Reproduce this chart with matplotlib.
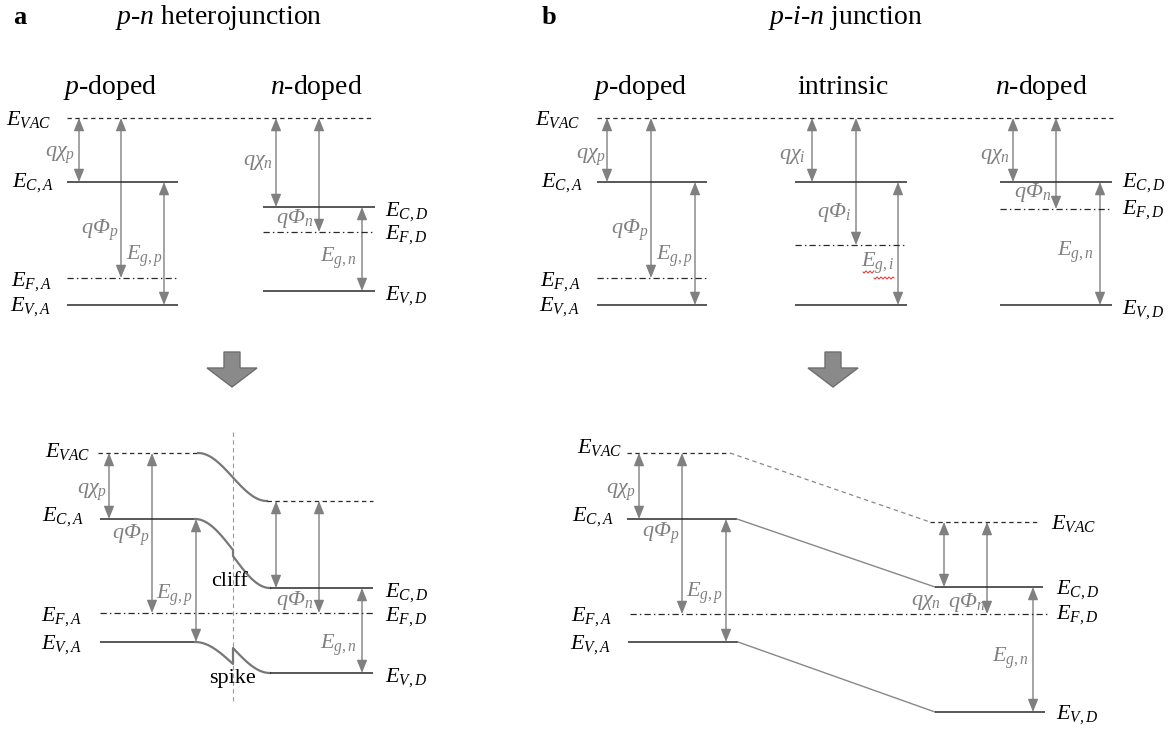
import numpy as np
import matplotlib.pyplot as plt
from matplotlib.patches import FancyArrowPatch, Polygon

plt.rcParams['font.family'] = ['Liberation Serif', 'DejaVu Serif']
# all math symbols (including capital Greek) are set in italic
plt.rcParams['mathtext.fontset'] = 'custom'
plt.rcParams['mathtext.rm'] = 'Liberation Serif:italic'
plt.rcParams['mathtext.it'] = 'Liberation Serif:italic'
plt.rcParams['mathtext.bf'] = 'Liberation Serif:bold'

GRAY = '#808080'
DARK = '#2a2a2a'
DASH = (0, (3.5, 2.8))
DASHDOT = (0, (5, 2.5, 1.2, 2.5))

# energy levels in pixel rows (0 = top of the figure, larger = lower energy)
evac_top = 118

# a: isolated p and n layers
pn_ec = [182, 207]
pn_ef = [278, 232]
pn_ev = [305, 291]

# b: isolated p, intrinsic and n layers
pin_ec = [182, 182, 182]
pin_ef = [278, 245, 209]
pin_ev = [305, 305, 305]

# a: heterojunction in contact (left side, right side)
het_evac = [453, 501]
het_ec = [519, 588]
het_ef = 613
het_ev = [642, 673]
het_cliff = [550, 556]   # conduction band step at the interface
het_spike = [664, 648]   # valence band step at the interface

# b: p-i-n junction in contact
junc_evac = [453, 522]
junc_ec = [519, 587]
junc_ef = 614
junc_ev = [642, 712]

fig = plt.figure(figsize=(11.72, 7.31), dpi=100)
ax = fig.add_axes([0, 0, 1, 1])
ax.set_xlim(0, 1172)
ax.set_ylim(731, 0)
ax.axis('off')


def hline(x0, x1, y, ls='-', color=DARK, lw=1.1):
    ax.plot([x0, x1], [y, y], ls=ls, color=color, lw=lw, solid_capstyle='butt')


def arrow(x, y0, y1):
    ax.add_patch(FancyArrowPatch((x, y0), (x, y1),
                                 arrowstyle='<|-|>,head_length=0.55,head_width=0.22',
                                 mutation_scale=14, color=GRAY, lw=1.0,
                                 shrinkA=0, shrinkB=0))


def ease(x0, x1, y0, y1, kind='both'):
    t = np.linspace(0, 1, 50)
    if kind == 'in':
        s = 1 - np.cos(t * np.pi / 2)
    elif kind == 'out':
        s = np.sin(t * np.pi / 2)
    else:
        s = (1 - np.cos(t * np.pi)) / 2
    return x0 + (x1 - x0) * t, y0 + (y1 - y0) * s


def lbl(x, y, s, color='black', size=16, **kw):
    ax.text(x, y, s, color=color, fontsize=size, ha='center', va='center', **kw)


def layer(x0, x1, ec, ef, ev, arrows_x, evac=evac_top):
    hline(x0, x1, ec)
    hline(x0, x1, ef, ls=DASHDOT, lw=0.9)
    hline(x0, x1, ev)
    arrow(arrows_x[0], evac, ec)
    arrow(arrows_x[1], evac, ef)
    arrow(arrows_x[2], ec, ev)


def block_arrow(cx):
    pts = [(cx - 8, 352), (cx + 8, 352), (cx + 8, 368), (cx + 25, 368),
           (cx, 387), (cx - 25, 368), (cx - 8, 368)]
    ax.add_patch(Polygon(pts, closed=True, facecolor='#8a8a8a', edgecolor='#6f6f6f', lw=1))


# ---------------- panel a ----------------
ax.text(20, 18, 'a', fontsize=19, fontweight='bold', ha='center', va='center')
lbl(219, 18, r'$p$-$n$ heterojunction', size=20)
lbl(110, 87, r'$p$-doped', size=20)
lbl(316, 87, r'$n$-doped', size=20)

hline(67, 373, evac_top, ls=DASH, lw=0.9)
layer(67, 178, pn_ec[0], pn_ef[0], pn_ev[0], [79, 121, 164])
layer(263, 375, pn_ec[1], pn_ef[1], pn_ev[1], [276, 319, 362])

for x, y, s in [(29, 120, r'$E_{VAC}$'), (33, 183, r'$E_{C,A}$'),
                (32, 282, r'$E_{F,A}$'), (31, 307, r'$E_{V,A}$'),
                (407, 212, r'$E_{C,D}$'), (406, 235, r'$E_{F,D}$'),
                (406, 296, r'$E_{V,D}$')]:
    lbl(x, y, s)
for x, y, s in [(60, 155, r'$q\chi_p$'), (100, 230, r'$q\Phi_p$'),
                (145, 256, r'$E_{g,p}$'), (258, 163, r'$q\chi_n$'),
                (295, 218, r'$q\Phi_n$'), (338, 258, r'$E_{g,n}$')]:
    lbl(x, y, s, color=GRAY)

block_arrow(232)

# contact: band bending around the interface at x = 233
xi = 233
ax.plot([xi, xi], [432, 703], ls=(0, (4, 3)), color='#999999', lw=0.8)

hline(98, 198, het_evac[0], ls=DASH, lw=0.9)
x, y = ease(198, 267, het_evac[0], het_evac[1])
ax.plot(x, y, color='#777777', lw=1.6)
hline(267, 373, het_evac[1], ls=DASH, lw=0.9)

hline(100, 195, het_ec[0])
x1, y1 = ease(195, xi, het_ec[0], het_cliff[0], 'in')
x2, y2 = ease(xi, 270, het_cliff[1], het_ec[1], 'out')
ax.plot(np.r_[x1, x2], np.r_[y1, y2], color='#777777', lw=1.6)
hline(270, 373, het_ec[1])

hline(100, 373, het_ef, ls=DASHDOT, lw=0.9)

hline(100, 195, het_ev[0])
x1, y1 = ease(195, xi, het_ev[0], het_spike[0], 'in')
x2, y2 = ease(xi, 270, het_spike[1], het_ev[1], 'out')
ax.plot(np.r_[x1, x2], np.r_[y1, y2], color='#777777', lw=1.6)
hline(270, 373, het_ev[1])

arrow(109, het_evac[0], het_ec[0])
arrow(152, het_evac[0], het_ef)
arrow(196, het_ec[0], het_ev[0])
arrow(276, het_evac[1], het_ec[1])
arrow(319, het_evac[1], het_ef)
arrow(362, het_ec[1], het_ev[1])

for x, y, s in [(68, 451, r'$E_{VAC}$'), (63, 517, r'$E_{C,A}$'),
                (62, 617, r'$E_{F,A}$'), (62, 645, r'$E_{V,A}$'),
                (407, 593, r'$E_{C,D}$'), (406, 617, r'$E_{F,D}$'),
                (406, 678, r'$E_{V,D}$')]:
    lbl(x, y, s)
for x, y, s in [(92, 492, r'$q\chi_p$'), (131, 535, r'$q\Phi_p$'),
                (175, 595, r'$E_{g,p}$'), (295, 600, r'$q\Phi_n$'),
                (338, 645, r'$E_{g,n}$')]:
    lbl(x, y, s, color=GRAY)
lbl(230, 581, 'cliff')
lbl(232, 678, 'spike')

# ---------------- panel b ----------------
ax.text(549, 18, 'b', fontsize=19, fontweight='bold', ha='center', va='center')
lbl(845, 18, r'$p$-$i$-$n$ junction', size=20)
lbl(640, 87, r'$p$-doped', size=20)
lbl(843, 87, 'intrinsic', size=20)
lbl(1041, 87, r'$n$-doped', size=20)

hline(597, 1113, evac_top, ls=DASH, lw=0.9)
layer(597, 707, pin_ec[0], pin_ef[0], pin_ev[0], [607, 651, 695])
layer(795, 907, pin_ec[1], pin_ef[1], pin_ev[1], [812, 856, 898])
layer(1000, 1112, pin_ec[2], pin_ef[2], pin_ev[2], [1013, 1056, 1100])

for x, y, s in [(558, 120, r'$E_{VAC}$'), (562, 183, r'$E_{C,A}$'),
                (561, 282, r'$E_{F,A}$'), (560, 307, r'$E_{V,A}$'),
                (1144, 183, r'$E_{C,D}$'), (1143, 210, r'$E_{F,D}$'),
                (1143, 310, r'$E_{V,D}$')]:
    lbl(x, y, s)
for x, y, s in [(591, 157, r'$q\chi_p$'), (630, 230, r'$q\Phi_p$'),
                (675, 256, r'$E_{g,p}$'), (792, 157, r'$q\chi_i$'),
                (834, 213, r'$q\Phi_i$'), (878, 263, r'$E_{g,i}$'),
                (995, 157, r'$q\chi_n$'), (1033, 193, r'$q\Phi_n$'),
                (1075, 252, r'$E_{g,n}$')]:
    lbl(x, y, s, color=GRAY)

# spell-check squiggle under E_g,i
for xa, xb, yb in [(863, 874, 272), (874, 894, 278)]:
    xs = np.linspace(xa, xb, 40)
    ax.plot(xs, yb + 1.0 * np.sin((xs - xa) * 2 * np.pi / 4), color='#e03030', lw=0.7)

block_arrow(833)

# contact: linear bending across the intrinsic region
hline(627, 730, junc_evac[0], ls=DASH, lw=0.9)
ax.plot([730, 930], junc_evac, ls=DASH, color='#888888', lw=0.9)
hline(930, 1040, junc_evac[1], ls=DASH, lw=0.9)

hline(627, 737, junc_ec[0])
ax.plot([737, 935], junc_ec, color='#888888', lw=1.0)
hline(935, 1043, junc_ec[1])

hline(630, 1047, junc_ef, ls=DASHDOT, lw=0.9)

hline(628, 738, junc_ev[0])
ax.plot([738, 935], junc_ev, color='#888888', lw=1.0)
hline(935, 1045, junc_ev[1])

arrow(639, junc_evac[0], junc_ec[0])
arrow(682, junc_evac[0], junc_ef)
arrow(726, junc_ec[0], junc_ev[0])
arrow(944, junc_evac[1], junc_ec[1])
arrow(987, junc_evac[1], junc_ef)
arrow(1033, junc_ec[1], junc_ev[1])

for x, y, s in [(600, 448, r'$E_{VAC}$'), (593, 517, r'$E_{C,A}$'),
                (592, 617, r'$E_{F,A}$'), (591, 645, r'$E_{V,A}$'),
                (1074, 524, r'$E_{VAC}$'), (1078, 590, r'$E_{C,D}$'),
                (1077, 615, r'$E_{F,D}$'), (1077, 715, r'$E_{V,D}$')]:
    lbl(x, y, s)
for x, y, s in [(621, 492, r'$q\chi_p$'), (661, 533, r'$q\Phi_p$'),
                (705, 593, r'$E_{g,p}$'), (926, 603, r'$q\chi_n$'),
                (967, 602, r'$q\Phi_n$'), (1010, 658, r'$E_{g,n}$')]:
    lbl(x, y, s, color=GRAY)

fig.savefig('out.png', dpi=100)
